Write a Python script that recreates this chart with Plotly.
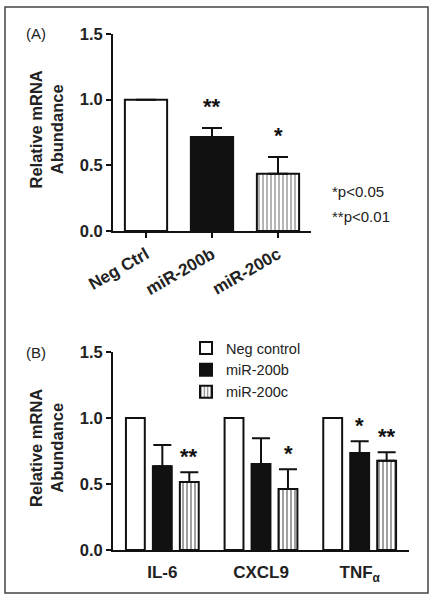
import plotly.graph_objects as go

# ---------------- data ----------------
catsA = ["Neg Ctrl", "miR-200b", "miR-200c"]
valsA = [1.0, 0.715, 0.436]
errA = [0.0, 0.07, 0.127]
starsA = ["", "**", "*"]

catsB = ["IL-6", "CXCL9", "TNF<sub>α</sub>"]
seriesB = ["Neg control", "miR-200b", "miR-200c"]
valsB_neg = [1.0, 1.0, 1.0]
errB_neg = [0.0, 0.0, 0.0]
valsB_200b = [0.634, 0.652, 0.735]
errB_200b = [0.161, 0.194, 0.088]
valsB_200c = [0.515, 0.462, 0.677]
errB_200c = [0.074, 0.149, 0.063]
starsB_200b = ["", "", "*"]
starsB_200c = ["**", "*", "**"]

p_notes = ["*p<0.05", "**p<0.01"]
y_title = "<b>Relative mRNA<br>Abundance</b>"

FONT = "Liberation Sans, Arial, sans-serif"
BLACK = "#111111"
TXT = "#222222"

fig = go.Figure()

# Panel A
fig.add_trace(go.Bar(
    x=catsA, y=valsA, width=0.64,
    marker=dict(color=["white", BLACK, "white"],
                line=dict(color=BLACK, width=2),
                pattern=dict(shape=["", "", "|"], size=4, solidity=0.4,
                             fgcolor=BLACK, bgcolor="white")),
    error_y=dict(type="data", symmetric=False, array=errA, arrayminus=[0, 0, 0],
                 color=BLACK, thickness=2, width=10),
    showlegend=False, xaxis="x", yaxis="y",
))

# Panel B
specB = [
    (seriesB[0], valsB_neg, errB_neg, "white", ""),
    (seriesB[1], valsB_200b, errB_200b, BLACK, ""),
    (seriesB[2], valsB_200c, errB_200c, "white", "|"),
]
for name, v, e, col, pat in specB:
    tr = go.Bar(
        x=catsB, y=v, name=name,
        marker=dict(color=col, line=dict(color=BLACK, width=2)),
        xaxis="x2", yaxis="y2",
    )
    if pat:
        tr.marker.pattern = dict(shape=pat, size=4, solidity=0.4,
                                 fgcolor=BLACK, bgcolor="white")
    if any(x > 0 for x in e):
        tr.error_y = dict(type="data", symmetric=False, array=e, arrayminus=[0, 0, 0],
                          color=BLACK, thickness=2, width=9)
    fig.add_trace(tr)

ann = []
# stars A
for c, v, e, s in zip(catsA, valsA, errA, starsA):
    if s:
        ann.append(dict(x=c, y=v + e, xref="x", yref="y", text="<b>" + s + "</b>",
                        showarrow=False, yanchor="bottom", yshift=7,
                        font=dict(family=FONT, size=22, color=BLACK)))
# stars B
for offs, vals, errs, stars in [(0, valsB_200b, errB_200b, starsB_200b),
                                (1, valsB_200c, errB_200c, starsB_200c)]:
    for c, v, e, s in zip(catsB, vals, errs, stars):
        if s:
            ann.append(dict(x=c, y=v + e, xref="x2", yref="y2", text="<b>" + s + "</b>",
                            showarrow=False, yanchor="bottom", yshift=1,
                            xshift=offs * 27,
                            font=dict(family=FONT, size=22, color=BLACK)))

# panel labels
ann.append(dict(x=24 / 438, y=1 - 34 / 600, xref="paper", yref="paper", text="(A)",
                showarrow=False, xanchor="left", yanchor="middle",
                font=dict(family=FONT, size=15, color=TXT)))
ann.append(dict(x=24 / 438, y=1 - 352 / 600, xref="paper", yref="paper", text="(B)",
                showarrow=False, xanchor="left", yanchor="middle",
                font=dict(family=FONT, size=15, color=TXT)))
# y titles
for yc in [(34 + 231) / 2, (352 + 550) / 2]:
    ann.append(dict(x=46 / 438, y=1 - (yc - 3) / 600, xref="paper", yref="paper",
                    text=y_title, textangle=-90, showarrow=False,
                    xanchor="center", yanchor="middle",
                    font=dict(family=FONT, size=16.5, color=TXT)))
# p notes
for i, t in enumerate(p_notes):
    ann.append(dict(x=330 / 438, y=1 - (191 + 25 * i) / 600, xref="paper", yref="paper",
                    text=t, showarrow=False, xanchor="left", yanchor="middle",
                    font=dict(family=FONT, size=15, color=TXT)))

yax_common = dict(range=[0, 1.5], tickvals=[0, 0.5, 1.0, 1.5],
                  ticktext=["0.0", "0.5", "1.0", "1.5"], automargin=False,
                  showline=True, linecolor=BLACK, linewidth=2,
                  ticks="outside", ticklen=5, tickwidth=2, tickcolor=BLACK,
                  showgrid=False, zeroline=False,
                  tickfont=dict(family=FONT, size=16.5, color=TXT, weight="bold"))

fig.update_layout(
    width=438, height=600,
    margin=dict(l=0, r=0, t=0, b=0, autoexpand=False),
    paper_bgcolor="white", plot_bgcolor="white",
    barmode="group", bargap=0.18, bargroupgap=0.3,
    xaxis=dict(domain=[113 / 438, 311 / 438], anchor="y", range=[-0.5, 2.5],
               automargin=False,
               showline=True, linecolor=BLACK, linewidth=2, ticks="outside",
               ticklen=5, tickwidth=2, tickcolor=BLACK, tickangle=-30,
               tickfont=dict(family=FONT, size=17, color=TXT, weight="bold"),
               showgrid=False),
    yaxis=dict(domain=[1 - 231 / 600, 1 - 34 / 600], anchor="x", **yax_common),
    xaxis2=dict(domain=[113 / 438, 409 / 438], anchor="y2", range=[-0.5, 2.5],
                automargin=False,
                showline=True, linecolor=BLACK, linewidth=2, ticks="outside",
                ticklen=6, tickcolor="rgba(0,0,0,0)",
                tickfont=dict(family=FONT, size=17, color=TXT, weight="bold"),
                showgrid=False),
    yaxis2=dict(domain=[1 - 550 / 600, 1 - 352 / 600], anchor="x2", **yax_common),
    legend=dict(x=186 / 438, y=1 - 332 / 600, xanchor="left", yanchor="top",
                font=dict(family=FONT, size=14.5, color=TXT),
                bgcolor="rgba(0,0,0,0)", tracegroupgap=0, itemwidth=30),
    annotations=ann,
    shapes=[dict(type="rect", xref="paper", yref="paper",
                 x0=5 / 438, x1=428 / 438, y0=1 - 593 / 600, y1=1 - 7 / 600,
                 line=dict(color="#444", width=1.5))],
)

fig.write_html("out.html", config={"displayModeBar": False},
               post_script="document.body.style.margin='0';")
